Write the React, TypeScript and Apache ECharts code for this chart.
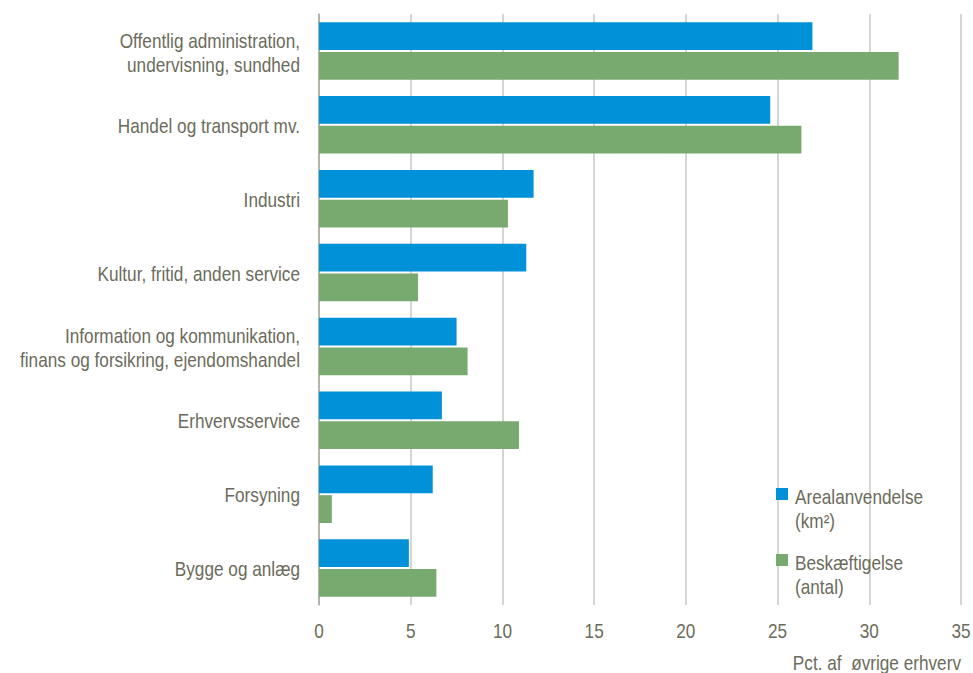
import React, { useEffect, useRef } from "react";
import * as echarts from "echarts";

const categories = [
  "Offentlig administration,\nundervisning, sundhed",
  "Handel og transport mv.",
  "Industri",
  "Kultur, fritid, anden service",
  "Information og kommunikation,\nfinans og forsikring, ejendomshandel",
  "Erhvervsservice",
  "Forsyning",
  "Bygge og anlæg",
];
const arealValues = [26.9, 24.6, 11.7, 11.3, 7.5, 6.7, 6.2, 4.9];
const beskaeftigelseValues = [31.6, 26.3, 10.3, 5.4, 8.1, 10.9, 0.7, 6.4];
const xTicks = [0, 5, 10, 15, 20, 25, 30, 35];
const seriesNames = ["Arealanvendelse", "Beskæftigelse"];
const legendLines = [["Arealanvendelse", "(km²)"], ["Beskæftigelse", "(antal)"]];
const axisName = "Pct. af  øvrige erhverv";

const FONT = "'Liberation Sans', Arial, sans-serif";
const SIZE = 20;
const SX = 0.86;
const TEXT = "#6b6b5b";
const BLUE = "#0091d9";
const GREEN = "#78aa70";

function narrow(x: number, y: number, text: string, align: string, vAlign = "middle") {
  return {
    type: "text",
    x,
    y,
    scaleX: SX,
    silent: true,
    style: {
      text,
      font: `${SIZE}px ${FONT}`,
      fill: TEXT,
      align,
      verticalAlign: vAlign,
      lineHeight: 24,
    },
  };
}

export default function App() {
  const ref = useRef<HTMLDivElement>(null);
  useEffect(() => {
    const chart = echarts.init(ref.current!, undefined, { renderer: "svg" });
    chart.setOption({
      animation: false,
      textStyle: { fontFamily: FONT, color: TEXT },
      grid: { left: 319, right: 12, top: 14, bottom: 68, containLabel: false },
      xAxis: {
        type: "value",
        min: 0,
        max: 35,
        interval: 5,
        axisLine: { show: false },
        axisTick: { show: false },
        splitLine: { show: true, lineStyle: { color: "#c9c9c0", width: 1.5 } },
        axisLabel: { show: false },
      },
      yAxis: {
        type: "category",
        inverse: true,
        data: categories,
        axisLine: { show: true, lineStyle: { color: "#a8a89e", width: 1.5 } },
        axisTick: { show: false },
        axisLabel: { show: false },
      },
      series: [
        {
          name: seriesNames[0],
          type: "bar",
          data: arealValues,
          itemStyle: { color: BLUE },
          barGap: "7%",
          barCategoryGap: "22%",
        },
        {
          name: seriesNames[1],
          type: "bar",
          data: beskaeftigelseValues,
          itemStyle: { color: GREEN },
          barGap: "7%",
          barCategoryGap: "22%",
        },
      ],
    });

    const axisX = chart.convertToPixel({ xAxisIndex: 0 }, 0) as number;
    const bottomY = chart.convertToPixel({ yAxisIndex: 0 }, categories.length - 1) as number;
    const graphics: any[] = [];
    categories.forEach((c, i) => {
      const y = chart.convertToPixel({ yAxisIndex: 0 }, i) as number;
      graphics.push(narrow(axisX - 19, y + (c.includes("\n") ? 2 : 1), c, "right"));
    });
    xTicks.forEach((t) => {
      const x = chart.convertToPixel({ xAxisIndex: 0 }, t) as number;
      graphics.push(narrow(x, bottomY + 63, String(t), "center"));
    });
    const rightX = chart.convertToPixel({ xAxisIndex: 0 }, 35) as number;
    graphics.push(narrow(rightX, 663, axisName, "right"));
    graphics.push({ type: "rect", shape: { x: 776, y: 488, width: 12, height: 12 }, style: { fill: BLUE } });
    graphics.push(narrow(795, 509, legendLines[0].join("\n"), "left"));
    graphics.push({ type: "rect", shape: { x: 776, y: 554, width: 12, height: 12 }, style: { fill: GREEN } });
    graphics.push(narrow(795, 575, legendLines[1].join("\n"), "left"));
    chart.setOption({ graphic: graphics });

    return () => chart.dispose();
  }, []);
  return (
    <div
      ref={ref}
      style={{ position: "fixed", left: 0, top: 0, width: 973, height: 673, background: "#fff" }}
    />
  );
}
